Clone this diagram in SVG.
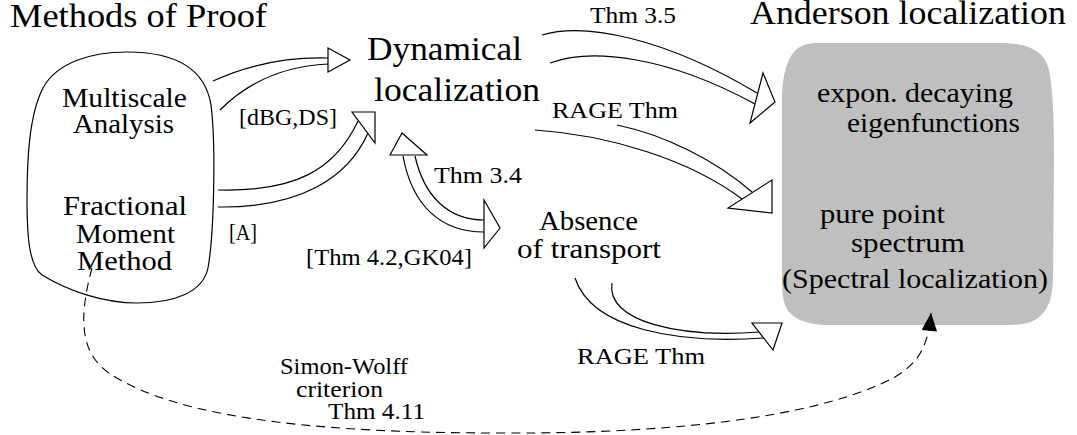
<svg xmlns="http://www.w3.org/2000/svg" width="1077" height="435" viewBox="0 0 1077 435">
<defs>
<style>
.t{font-family:"Liberation Serif","DejaVu Serif","Noto Serif","Times New Roman",serif;fill:#000}
.big{font-size:33px}
.node{font-size:28px}
.lbl{font-size:23px}
.ln{fill:none;stroke:#000;stroke-width:1.2}
.head{fill:#fff;stroke:#000;stroke-width:1.2;stroke-linejoin:miter}
.dash{fill:none;stroke:#000;stroke-width:1.1;stroke-dasharray:9 6}
</style>
<marker id="tip" markerUnits="userSpaceOnUse" markerWidth="20" markerHeight="20" viewBox="-17 -8 18 16" refX="0" refY="0" orient="auto">
<path d="M0,0 L-16,-7 L-16,7 Z" fill="#000"/>
</marker>
</defs>
<rect width="1077" height="435" fill="#fff"/>

<g id="methods">
<text class="t big" x="10" y="27" textLength="257" lengthAdjust="spacingAndGlyphs">Methods of Proof</text>
<path class="ln" d="M127,52 C175,52 205,68 211,105 C216,145 214,235 208,268 C203,292 175,303 137,303 C105,303 70,292 42,275 C29,266 27,235 27,200 C27,160 29,115 43,88 C57,62 92,52 127,52 Z"/>
<text class="t node" x="62" y="107" textLength="125" lengthAdjust="spacingAndGlyphs">Multiscale</text>
<text class="t node" x="73" y="133" textLength="101" lengthAdjust="spacingAndGlyphs">Analysis</text>
<text class="t node" x="63" y="215" textLength="124" lengthAdjust="spacingAndGlyphs">Fractional</text>
<text class="t node" x="76" y="243" textLength="99" lengthAdjust="spacingAndGlyphs">Moment</text>
<text class="t node" x="77" y="270" textLength="95" lengthAdjust="spacingAndGlyphs">Method</text>
</g>

<g id="dynamical">
<text class="t big" x="367" y="60" textLength="155" lengthAdjust="spacingAndGlyphs">Dynamical</text>
<text class="t big" x="374" y="101" textLength="166" lengthAdjust="spacingAndGlyphs">localization</text>
</g>

<g id="absence">
<text class="t node" x="539" y="230" textLength="99" lengthAdjust="spacingAndGlyphs">Absence</text>
<text class="t node" x="517" y="258" textLength="144" lengthAdjust="spacingAndGlyphs">of transport</text>
</g>

<g id="anderson">
<text class="t big" x="750" y="24" textLength="316" lengthAdjust="spacingAndGlyphs">Anderson localization</text>
<path fill="#bfbfbf" d="M815,43 L1005,43 C1030,44 1045,52 1049,70 C1053,90 1054,120 1054,160 L1053,280 C1052,300 1048,310 1038,318 C1030,324 1020,325 1005,325 L830,325 C805,325 790,318 785,305 C782,295 782,285 782,270 L782,100 C782,70 790,52 800,47 C805,44 810,43 815,43 Z"/>
<text class="t node" x="817" y="102" textLength="196" lengthAdjust="spacingAndGlyphs">expon. decaying</text>
<text class="t node" x="847" y="132" textLength="173" lengthAdjust="spacingAndGlyphs">eigenfunctions</text>
<text class="t node" x="820" y="223" textLength="125" lengthAdjust="spacingAndGlyphs">pure point</text>
<text class="t node" x="851" y="252" textLength="114" lengthAdjust="spacingAndGlyphs">spectrum</text>
<text class="t node" x="782" y="288" textLength="266" lengthAdjust="spacingAndGlyphs">(Spectral localization)</text>
</g>

<g id="connectors">
<path class="ln" d="M213,81 C250,64 290,57 328,58"/>
<path class="ln" d="M220,110 C250,80 285,66 328,64"/>
<polygon class="head" points="328,48 350,60 328,72"/>
<path class="ln" d="M218,190 C295,192 335,170 358,121"/>
<path class="ln" d="M218,207 C300,208 348,178 368,133"/>
<polygon class="head" points="352,112 375,112 375,143"/>
<path class="ln" d="M403,156 C412,205 440,232 484,232"/>
<path class="ln" d="M415,156 C424,196 448,220 484,220"/>
<polygon class="head" points="390,155 402,133 427,155"/>
<polygon class="head" points="484,200 500,228 484,248"/>
<path class="ln" d="M542,35 C585,22 665,38 757,93"/>
<path class="ln" d="M550,63 C590,48 665,55 755,104"/>
<polygon class="head" points="763,73 775,102 750,123"/>
<path class="ln" d="M535,130 C610,135 690,160 742,199"/>
<path class="ln" d="M617,125 C665,135 715,160 752,192"/>
<polygon class="head" points="772,180 772,213 728,208"/>
<path class="ln" d="M575,278 C592,330 680,344 764,338"/>
<path class="ln" d="M612,283 C606,322 680,338 759,332"/>
<polygon class="head" points="752,323 782,323 773,350"/>
<path class="dash" marker-end="url(#tip)" d="M92,268 C78,320 80,355 112,375 C175,415 300,433 500,433 C700,434 830,412 895,377 C920,362 928,345 931,313"/>

<text class="t lbl" x="239" y="125" textLength="98" lengthAdjust="spacingAndGlyphs">[dBG,DS]</text>
<text class="t lbl" x="229" y="240" textLength="28" lengthAdjust="spacingAndGlyphs">[A]</text>
<text class="t lbl" x="434" y="183" textLength="88" lengthAdjust="spacingAndGlyphs">Thm 3.4</text>
<text class="t lbl" x="306" y="265" textLength="166" lengthAdjust="spacingAndGlyphs">[Thm 4.2,GK04]</text>
<text class="t lbl" x="590" y="23" textLength="86" lengthAdjust="spacingAndGlyphs">Thm 3.5</text>
<text class="t lbl" x="552" y="118" textLength="126" lengthAdjust="spacingAndGlyphs">RAGE Thm</text>
<text class="t lbl" x="577" y="364" textLength="128" lengthAdjust="spacingAndGlyphs">RAGE Thm</text>
<text class="t lbl" x="280" y="374" textLength="128" lengthAdjust="spacingAndGlyphs">Simon-Wolff</text>
<text class="t lbl" x="296" y="397" textLength="87" lengthAdjust="spacingAndGlyphs">criterion</text>
<text class="t lbl" x="328" y="419" textLength="97" lengthAdjust="spacingAndGlyphs">Thm 4.11</text>
</g>
</svg>
